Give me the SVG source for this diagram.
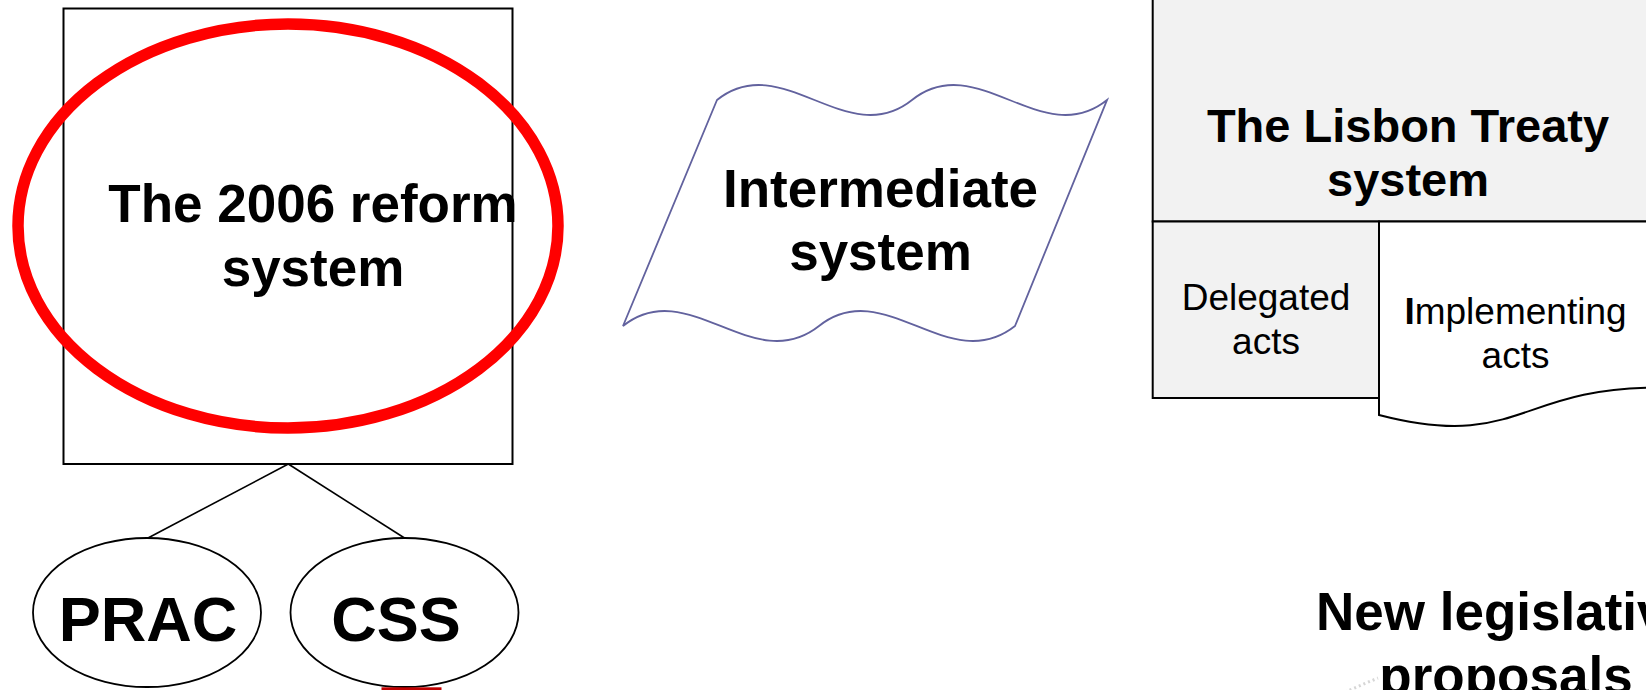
<svg xmlns="http://www.w3.org/2000/svg" width="1646" height="690" viewBox="0 0 1646 690">
<style>
  .box { fill: #ffffff; stroke: #000000; stroke-width: 2; }
  .gray { fill: #f2f2f2; stroke: #000000; stroke-width: 2; }
  .oval { fill: #ffffff; stroke: #000000; stroke-width: 1.8; }
  .wave { fill: #ffffff; stroke: #62629e; stroke-width: 1.8; }
  .b { font-family: "Liberation Sans", Arial, sans-serif; font-weight: bold; fill: #000000; text-anchor: middle; }
  .r { font-family: "Liberation Sans", Arial, sans-serif; font-weight: normal; fill: #000000; text-anchor: middle; }
  .conn { stroke: #000000; stroke-width: 1.6; fill: none; }
</style>
<rect width="1646" height="690" fill="#ffffff"/>

<g id="reform2006">
  <rect class="box" x="63.5" y="8.5" width="449" height="455.5"/>
  <text class="b" font-size="53" x="313" y="222">The 2006 reform</text>
  <text class="b" font-size="53" x="313" y="286">system</text>
</g>

<g id="highlight">
  <ellipse cx="288" cy="226" rx="270" ry="202" fill="none" stroke="#ff0000" stroke-width="11.5"/>
</g>

<g id="connectors">
  <line class="conn" x1="288.3" y1="464" x2="148" y2="538"/>
  <line class="conn" x1="288.3" y1="464" x2="404.5" y2="538"/>
</g>

<g id="prac">
  <ellipse class="oval" cx="147" cy="612.5" rx="114" ry="74.5"/>
  <text class="b" font-size="63" x="148" y="640.5">PRAC</text>
</g>

<g id="css">
  <ellipse class="oval" cx="404.5" cy="612.5" rx="114" ry="74.5"/>
  <text class="b" font-size="63" x="396" y="640.5">CSS</text>
  <rect x="381.5" y="687.3" width="60" height="3" fill="#c00000"/>
</g>

<g id="intermediate">
  <path class="wave" d="M717,100 C782,48 847,152 912,100 C977,48 1042,152 1107,100 L1015,326 C949,378 884,274 819,326 C753,378 688,274 623,326 Z"/>
  <text class="b" font-size="53" x="880.5" y="207">Intermediate</text>
  <text class="b" font-size="53" x="880.5" y="270">system</text>
</g>

<g id="lisbon">
  <rect class="gray" x="1152.7" y="-10" width="520" height="231.5"/>
  <text class="b" font-size="47" x="1408" y="141.7">The Lisbon Treaty</text>
  <text class="b" font-size="47" x="1408" y="196">system</text>
</g>

<g id="delegated">
  <rect class="gray" x="1152.7" y="221.5" width="226.3" height="176.5"/>
  <text class="r" font-size="37" x="1266" y="310">Delegated</text>
  <text class="r" font-size="37" x="1266" y="354">acts</text>
</g>

<g id="implementing">
  <path class="box" d="M1379,221.5 L1657,221.5 L1657,387.6 C1518,387.6 1518,451 1379,415 Z"/>
  <text class="r" font-size="37" x="1515.5" y="324"><tspan font-weight="bold">I</tspan>mplementing</text>
  <text class="r" font-size="37" x="1515.5" y="368">acts</text>
</g>

<g id="newproposals">
  <line x1="1345" y1="692" x2="1378" y2="678" stroke="#d6d6d6" stroke-width="3" stroke-dasharray="2 3"/>
  <text class="b" font-size="53" x="1506" y="630">New legislative</text>
  <text class="b" font-size="53" x="1506" y="694">proposals</text>
</g>
</svg>
